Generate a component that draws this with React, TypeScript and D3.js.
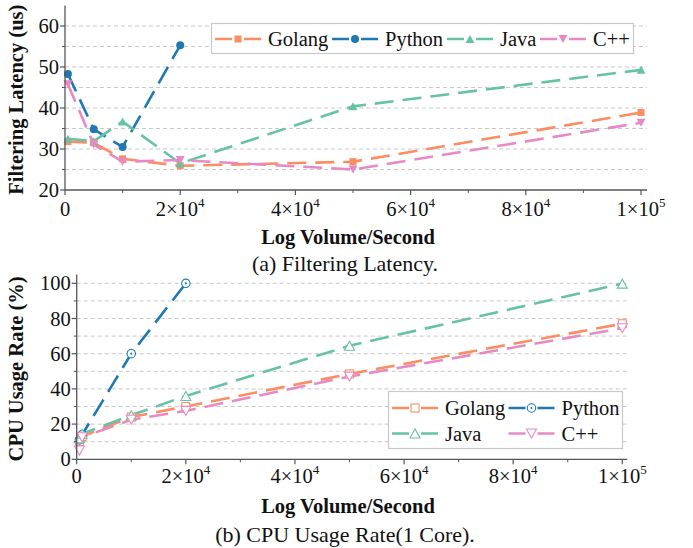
import React from "react";
import * as d3 from "d3";

// series names and colours
const langs = ["Golang", "Python", "Java", "C++"];
const colors = ["#fc8d62", "#1f78b4", "#66c2a5", "#e78ac3"];
const markers = ["square", "circle", "triUp", "triDown"];

// (a) filtering latency (us)
const latX = [500, 5000, 10000, 20000, 50000, 100000];
const latGolang = [31.8, 31.5, 27.6, 25.9, 26.9, 38.9];
const latPython = [48.3, 34.8, 30.5, 55.3];
const latJava = [32.5, 31.9, 36.7, 26.5, 40.4, 49.3];
const latCpp = [45.8, 31.1, 26.9, 27.3, 25, 36.4];

// (b) cpu usage rate (%)
const cpuX = [500, 1000, 10000, 20000, 50000, 100000];
const cpuGolang = [10, 13, 24, 30, 48.5, 77];
const cpuPython = [11, 14, 60, 100];
const cpuJava = [12, 14.5, 25, 36, 64.5, 99.8];
const cpuCpp = [5, 12.5, 22.5, 27.5, 47, 74.5];

const xTicks = [0, 20000, 40000, 60000, 80000, 100000];
const xMinor = [10000, 30000, 50000, 70000, 90000];
const xTickLabels = [["0", ""], ["2×10", "4"], ["4×10", "4"], ["6×10", "4"], ["8×10", "4"], ["1×10", "5"]];

const FONT = "'Liberation Serif', 'Times New Roman', serif";
const AXIS = "#555";
const FS = 20.5;

type Series = { name: string; color: string; marker: string; values: number[] };

const Marker = ({ kind, x, y, color, hollow }: any) => {
  const fill = hollow ? "#fff" : color;
  const sw = hollow ? 1.1 : 0;
  if (kind === "square") {
    const s = hollow ? 8 : 7;
    return <rect x={x - s / 2} y={y - s / 2} width={s} height={s} fill={fill} stroke={color} strokeWidth={sw} />;
  }
  if (kind === "circle") {
    return (
      <g>
        <circle cx={x} cy={y} r={hollow ? 4.2 : 4} fill={fill} stroke={color} strokeWidth={sw} />
        {hollow && <circle cx={x} cy={y} r={1.1} fill={color} />}
      </g>
    );
  }
  const h = hollow ? 9 : 8;
  const w = hollow ? 10 : 9;
  const dir = kind === "triUp" ? 1 : -1;
  const pts = [
    [x, y - (dir * h) / 2],
    [x - w / 2, y + (dir * h) / 2],
    [x + w / 2, y + (dir * h) / 2],
  ];
  return <polygon points={pts.map((p) => p.join(",")).join(" ")} fill={fill} stroke={color} strokeWidth={sw} />;
};

const LegendItem = ({ s, x, y, hollow }: any) => (
  <g>
    <line x1={x} x2={x + 17} y1={y} y2={y} stroke={s.color} strokeWidth={2.5} />
    <line x1={x + 29} x2={x + 46} y1={y} y2={y} stroke={s.color} strokeWidth={2.5} />
    <Marker kind={s.marker} x={x + 23} y={y} color={s.color} hollow={hollow} />
    <text x={x + 53} y={y + 7} fontSize={FS} fontFamily={FONT} fill="#111">
      {s.name}
    </text>
  </g>
);

const Panel = ({ xs, series, yDomain, yTicks, yMinor, grid, x0, x1, xEnd, yBottom, yTop, hollow, yTitle, caption, legend, lab }: any) => {
  const x = d3.scaleLinear().domain([0, 100000]).range([x0, x1]);
  const y = d3.scaleLinear().domain(yDomain).range([yBottom, yTop]);
  const line = d3
    .line<number>()
    .x((d, i) => x(xs[i]))
    .y((d) => y(d));

  return (
    <g>
      {/* grid */}
      {grid.map((g: number) => (
        <line key={"g" + g} x1={x0} x2={xEnd} y1={y(g)} y2={y(g)} stroke="#c8c8c8" strokeWidth={1} strokeDasharray="4,3" />
      ))}
      {/* lines */}
      {series.map((s: Series) => (
        <path key={s.name} d={line(s.values) || ""} fill="none" stroke={s.color} strokeWidth={2.6} strokeDasharray="19,9" />
      ))}
      {series.map((s: Series) =>
        s.values.map((v, i) => <Marker key={s.name + i} kind={s.marker} x={x(xs[i])} y={y(v)} color={s.color} hollow={hollow} />)
      )}
      {/* axes */}
      <line x1={x0} x2={x0} y1={yBottom} y2={yTop} stroke={AXIS} strokeWidth={1.3} />
      <line x1={x0} x2={xEnd} y1={yBottom} y2={yBottom} stroke={AXIS} strokeWidth={1.3} />
      {yTicks.map((t: number) => (
        <g key={"yt" + t}>
          <line x1={x0 - 5} x2={x0} y1={y(t)} y2={y(t)} stroke={AXIS} strokeWidth={1.2} />
          <text x={x0 - 6} y={y(t) + 7} textAnchor="end" fontSize={FS} fontFamily={FONT} fill="#111">
            {t}
          </text>
        </g>
      ))}
      {yMinor.map((t: number) => (
        <line key={"ym" + t} x1={x0 - 3} x2={x0} y1={y(t)} y2={y(t)} stroke={AXIS} strokeWidth={1} />
      ))}
      {xTicks.map((t, i) => (
        <g key={"xt" + t}>
          <line x1={x(t)} x2={x(t)} y1={yBottom} y2={yBottom + 5} stroke={AXIS} strokeWidth={1.2} />
          <text x={x(t)} y={yBottom + lab[0]} textAnchor="middle" fontSize={FS} fontFamily={FONT} fill="#111">
            {xTickLabels[i][0]}
            {xTickLabels[i][1] && (
              <tspan fontSize={13} dy={-9}>
                {xTickLabels[i][1]}
              </tspan>
            )}
          </text>
        </g>
      ))}
      {xMinor.map((t) => (
        <line key={"xm" + t} x1={x(t)} x2={x(t)} y1={yBottom} y2={yBottom + 3} stroke={AXIS} strokeWidth={1} />
      ))}
      <text
        transform={`translate(${23},${(yBottom + yTop) / 2 + 2}) rotate(-90)`}
        textAnchor="middle"
        fontSize={FS}
        fontWeight="bold"
        fontFamily={FONT}
        fill="#111"
      >
        {yTitle}
      </text>
      <text x={348} y={yBottom + lab[1]} textAnchor="middle" fontSize={FS} fontWeight="bold" fontFamily={FONT} fill="#111">
        Log Volume/Second
      </text>
      <text x={345} y={yBottom + lab[2]} textAnchor="middle" fontSize={22} fontFamily={FONT} fill="#111">
        {caption}
      </text>
      {legend}
    </g>
  );
};

const makeSeries = (vals: number[][]): Series[] =>
  langs.map((name, i) => ({ name, color: colors[i], marker: markers[i], values: vals[i] }));

export default function App() {
  const latSeries = makeSeries([latGolang, latPython, latJava, latCpp]);
  const cpuSeries = makeSeries([cpuGolang, cpuPython, cpuJava, cpuCpp]);

  const topLegend = (
    <g>
      <rect x={211.5} y={23.5} width={422} height={30} fill="#fff" fillOpacity={0.9} stroke="#c8c8c8" strokeWidth={1.2} />
      <LegendItem s={latSeries[0]} x={215} y={39} />
      <LegendItem s={latSeries[1]} x={332} y={39} />
      <LegendItem s={latSeries[2]} x={447} y={39} />
      <LegendItem s={latSeries[3]} x={540} y={39} />
    </g>
  );
  const bottomLegend = (
    <g>
      <rect x={388.5} y={391.5} width={234} height={57} fill="#fff" fillOpacity={0.9} stroke="#c8c8c8" strokeWidth={1.2} />
      <LegendItem s={cpuSeries[0]} x={392} y={408} hollow />
      <LegendItem s={cpuSeries[1]} x={508.5} y={408} hollow />
      <LegendItem s={cpuSeries[2]} x={392} y={433.5} hollow />
      <LegendItem s={cpuSeries[3]} x={508.5} y={433.5} hollow />
    </g>
  );

  return (
    <svg width={693} height={548} style={{ position: "absolute", left: 0, top: 0, background: "#fff" }}>
      <Panel
        xs={latX}
        series={latSeries}
        yDomain={[20, 65]}
        yTicks={[20, 30, 40, 50, 60]}
        yMinor={[25, 35, 45, 55]}
        grid={[25, 30, 35, 40, 45, 50, 55, 60]}
        x0={65}
        x1={641}
        xEnd={647}
        yBottom={190}
        yTop={5.5}
        yTitle="Filtering Latency (us)"
        caption="(a) Filtering Latency."
        legend={topLegend}
        lab={[26, 54, 81]}
      />
      <Panel
        xs={cpuX}
        series={cpuSeries}
        yDomain={[0, 105]}
        yTicks={[0, 20, 40, 60, 80, 100]}
        yMinor={[10, 30, 50, 70, 90]}
        grid={[10, 20, 30, 40, 50, 60, 70, 80, 90, 100]}
        x0={76.7}
        x1={622.3}
        xEnd={627.3}
        yBottom={459.3}
        yTop={274.5}
        hollow
        yTitle="CPU Usage Rate (%)"
        caption="(b) CPU Usage Rate(1 Core)."
        legend={bottomLegend}
        lab={[24, 53.5, 83]}
      />
    </svg>
  );
}
